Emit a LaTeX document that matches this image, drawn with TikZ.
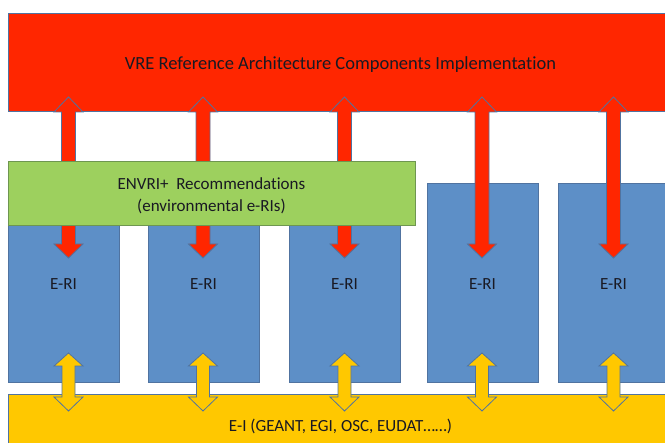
\documentclass[tikz,border=0pt]{standalone}
\usepackage{fontspec}
\setmainfont{Carlito}[Ligatures=NoCommon]
\usepackage{tikz}
\usetikzlibrary{positioning}
\definecolor{vrered}{RGB}{255,38,0}
\definecolor{eriblue}{RGB}{93,143,199}
\definecolor{envrigreen}{RGB}{157,208,94}
\definecolor{eiyellow}{RGB}{255,200,0}
\definecolor{boxline}{RGB}{80,115,160}
\definecolor{greenline}{RGB}{110,150,80}
\definecolor{labeltext}{RGB}{25,25,35}

\begin{document}
\begin{tikzpicture}[x=1pt, y=-1pt,
			box/.style={rectangle, draw=boxline, line width=0.8pt, inner sep=0pt},
			label/.style={inner sep=0pt, font=\fontsize{17}{22}\selectfont, text=labeltext, align=center},
			blockarrow/.style={draw=boxline, line width=0.8pt, line join=miter}]
			\useasboundingbox (0,0) rectangle (665,443);
			% top layer
			\node[box, fill=vrered, minimum width=664, minimum height=98] (vre) at (340.5,62) {};
			\node[label, font=\fontsize{18.5}{22}\selectfont] (vretext) at ([yshift=-3pt]vre.center) {VRE Reference Architecture Components Implementation};
			% research infrastructures
			\foreach \x [count=\i] in {63.5,203.5,344.5,482.5,613.5}{
				\node[box, fill=eriblue, minimum width=111, minimum height=199] (eri\i) at (\x,282.5) {};
				\node[label] (eritext\i) at ([yshift=-2pt]eri\i.center) {E-RI};
			}
			% e-infrastructures
			\node[box, fill=eiyellow, minimum width=664, minimum height=64] (ei) at (340.5,426) {};
			\node[label] (eitext) at (ei.center) {E-I (GEANT, EGI, OSC, EUDAT……)};
			% red arrows
			\foreach \x in {68.5,203,344.5,482,613.5}
				\filldraw[blockarrow, fill=vrered] (\x,97) -- (\x+14.5,112) -- (\x+7,112) -- (\x+7,244) -- (\x+14.5,244) -- (\x,258)
					-- (\x-14.5,244) -- (\x-7,244) -- (\x-7,112) -- (\x-14.5,112) -- cycle;
			% yellow arrows
			\foreach \x in {68.5,203,344.5,482,613.5}
				\filldraw[blockarrow, fill=eiyellow] (\x,353) -- (\x+14.5,366) -- (\x+6.5,366) -- (\x+6.5,397) -- (\x+14.5,397) -- (\x,411)
					-- (\x-14.5,397) -- (\x-6.5,397) -- (\x-6.5,366) -- (\x-14.5,366) -- cycle;
			% recommendations
			\node[box, draw=greenline, fill=envrigreen, minimum width=407, minimum height=64] (envri) at (211.5,193) {};
			\node[label] (envritext) at ([yshift=-3pt]envri.center) {ENVRI+~ Recommendations\\(environmental e-RIs)};
		\end{tikzpicture}
\end{document}
